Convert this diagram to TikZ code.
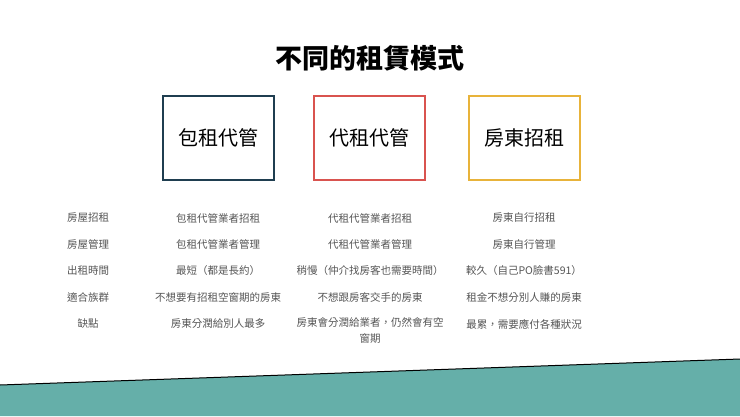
\documentclass[tikz,border=0pt]{standalone}
\usepackage{fontspec}
\newfontfamily\cjk{Noto Sans CJK TC}
\definecolor{teal1}{HTML}{65AFA9}
\definecolor{navy}{HTML}{1F3E50}
\definecolor{redb}{HTML}{D9534F}
\definecolor{gold}{HTML}{E8B33A}
\definecolor{txt}{HTML}{555555}
\begin{document}
\begin{tikzpicture}[x=1pt,y=-1pt,
  cell/.style={font=\cjk\fontsize{10.5}{16}\selectfont,text=txt,anchor=center,inner sep=0pt,align=center},
  modebox/.style={draw,line width=1.3pt,minimum width=111pt,minimum height=84pt,font=\cjk\fontsize{20}{24}\selectfont,text=black}]
\useasboundingbox (0,0) rectangle (740,416);
\fill[white] (0,0) rectangle (740,416);
\fill[teal1] (0,385) -- (740,359) -- (740,416) -- (0,416) -- cycle;
\draw[black,line width=1pt] (0,385) -- (740,359);
\node[font=\cjk\bfseries\fontsize{27}{30}\selectfont] (title) at (370,58) {不同的租賃模式};
\node[modebox,draw=navy] (b1) at (218.5,138) {包租代管};
\node[modebox,draw=redb] (b2) at (369.5,138) {代租代管};
\node[modebox,draw=gold] (b3) at (524.5,138) {房東招租};
\foreach \y/\a/\b/\c/\d [count=\i] in {
 218/房屋招租/包租代管業者招租/代租代管業者招租/房東自行招租,
 244/房屋管理/包租代管業者管理/代租代管業者管理/房東自行管理,
 271/出租時間/最短（都是長約）/稍慢（仲介找房客也需要時間）/較久（自己PO臉書591）,
 297/適合族群/不想要有招租空窗期的房東/不想跟房客交手的房東/租金不想分別人賺的房東}{
 \node[cell] (l\i) at (88,\y) {\a};
 \node[cell] (c\i) at (218,\y) {\b};
 \node[cell] (d\i) at (370,\y) {\c};
 \node[cell] (e\i) at (524,\y) {\d};
}
\node[cell] (l5) at (88,324) {缺點};
\node[cell] (c5) at (218,324) {房東分潤給別人最多};
\node[cell,anchor=north] (d5) at (370,317) {房東會分潤給業者，仍然會有空\\窗期};
\node[cell] (e5) at (524,324) {最累，需要應付各種狀況};
\end{tikzpicture}
\end{document}
